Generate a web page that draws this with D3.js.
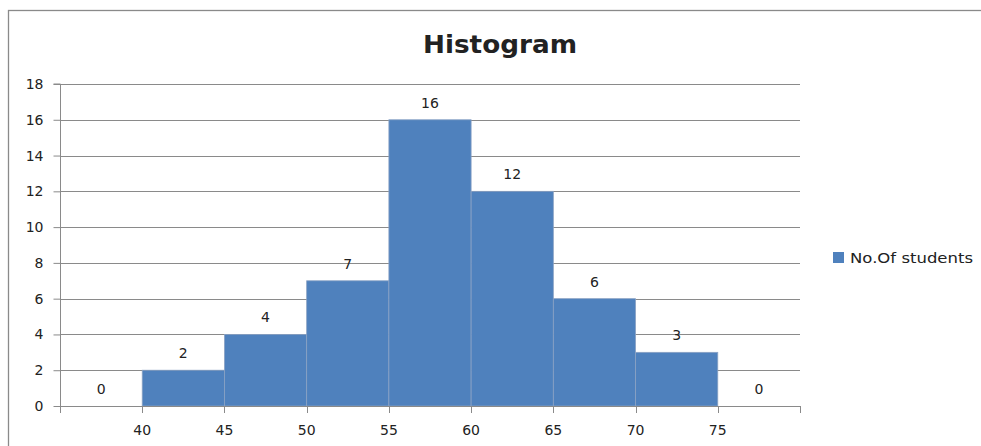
<!DOCTYPE html>
<html>
<head>
<meta charset="utf-8">
<script src="https://cdn.jsdelivr.net/npm/d3@7"></script>
<style>
  html, body { margin: 0; padding: 0; background: #fff; }
  svg { display: block; }
  text { font-family: "DejaVu Sans", sans-serif; fill: #222; }
</style>
</head>
<body>
<svg id="chart" width="981" height="446"></svg>
<script>
// Score bins (lower edge of each class) and student counts
const bins = ["35-40", "40-45", "45-50", "50-55", "55-60", "60-65", "65-70", "70-75", "75-80"];
const counts = [0, 2, 4, 7, 16, 12, 6, 3, 0];
// Labels written at the boundaries between neighbouring bins
const boundaryLabels = ["40", "45", "50", "55", "60", "65", "70", "75"];
const yTicks = [0, 2, 4, 6, 8, 10, 12, 14, 16, 18];
const seriesName = "No.Of students";
const title = "Histogram";

const svg = d3.select("#chart");
const margin = { left: 60, right: 800, top: 84, bottom: 406 };

const x = d3.scaleBand().domain(bins).range([margin.left, margin.right]).paddingInner(0).paddingOuter(0);
const y = d3.scaleLinear().domain([0, 18]).range([margin.bottom, margin.top]);

const grey = "#8a8a8a";
const barFill = "#4f81bd";
const numSize = 14;

// outer frame
svg.append("rect")
  .attr("x", 8.5).attr("y", 10.5)
  .attr("width", 990).attr("height", 460)
  .attr("fill", "none").attr("stroke", grey).attr("stroke-width", 1.3);

// title
svg.append("text")
  .attr("x", 500).attr("y", 53)
  .attr("text-anchor", "middle")
  .attr("font-weight", "bold")
  .attr("font-size", 25)
  .attr("textLength", 154)
  .attr("lengthAdjust", "spacingAndGlyphs")
  .text(title);

// horizontal gridlines
svg.append("g").selectAll("line")
  .data(yTicks.filter(d => d > 0))
  .join("line")
  .attr("x1", margin.left).attr("x2", margin.right)
  .attr("y1", d => Math.round(y(d)) + 0.5).attr("y2", d => Math.round(y(d)) + 0.5)
  .attr("stroke", grey).attr("stroke-width", 1);

// bars
svg.append("g").selectAll("rect")
  .data(counts.map((c, i) => ({ bin: bins[i], c })).filter(d => d.c > 0))
  .join("rect")
  .attr("x", d => x(d.bin))
  .attr("y", d => y(d.c))
  .attr("width", x.bandwidth())
  .attr("height", d => y(0) - y(d.c))
  .attr("fill", barFill)
  .attr("stroke", "#8aa2c4")
  .attr("stroke-width", 0.8);

// value labels
svg.append("g").selectAll("text")
  .data(counts.map((c, i) => ({ bin: bins[i], c })))
  .join("text")
  .attr("x", d => x(d.bin) + x.bandwidth() / 2)
  .attr("y", d => y(d.c) - 17)
  .attr("dy", "0.35em")
  .attr("text-anchor", "middle")
  .attr("font-size", numSize)
  .text(d => d.c);

// y axis
const yAxis = d3.axisLeft(y).tickValues(yTicks).tickSize(7).tickPadding(10).tickFormat(d3.format("d"));
const gy = svg.append("g").attr("transform", `translate(${margin.left + 0.5},0)`).call(yAxis);
gy.select(".domain").attr("stroke", grey).attr("d", `M-7,${margin.top}H0V${margin.bottom}`);
gy.selectAll(".tick line").attr("stroke", grey);
gy.selectAll(".tick text").attr("font-size", numSize).attr("font-family", "DejaVu Sans").attr("fill", "#222");

// x axis: baseline with ticks on every bin boundary
const boundaries = bins.map(b => x(b)).concat([x(bins[bins.length - 1]) + x.bandwidth()]);
const gx = svg.append("g");
gx.append("line")
  .attr("x1", margin.left).attr("x2", margin.right)
  .attr("y1", margin.bottom + 0.5).attr("y2", margin.bottom + 0.5)
  .attr("stroke", grey);
gx.selectAll("line.tick")
  .data(boundaries)
  .join("line")
  .attr("class", "tick")
  .attr("x1", d => Math.round(d) + 0.5).attr("x2", d => Math.round(d) + 0.5)
  .attr("y1", margin.bottom).attr("y2", margin.bottom + 7)
  .attr("stroke", grey);
gx.selectAll("text")
  .data(boundaryLabels)
  .join("text")
  .attr("x", (d, i) => boundaries[i + 1])
  .attr("y", 430)
  .attr("dy", "0.35em")
  .attr("text-anchor", "middle")
  .attr("font-size", numSize)
  .text(d => d);

// legend
const lg = svg.append("g");
lg.append("rect")
  .attr("x", 833).attr("y", 252).attr("width", 11).attr("height", 11)
  .attr("fill", barFill);
lg.append("text")
  .attr("x", 850).attr("y", 258)
  .attr("dy", "0.35em")
  .attr("font-size", 13.5)
  .attr("textLength", 123)
  .attr("lengthAdjust", "spacingAndGlyphs")
  .text(seriesName);
</script>
</body>
</html>
